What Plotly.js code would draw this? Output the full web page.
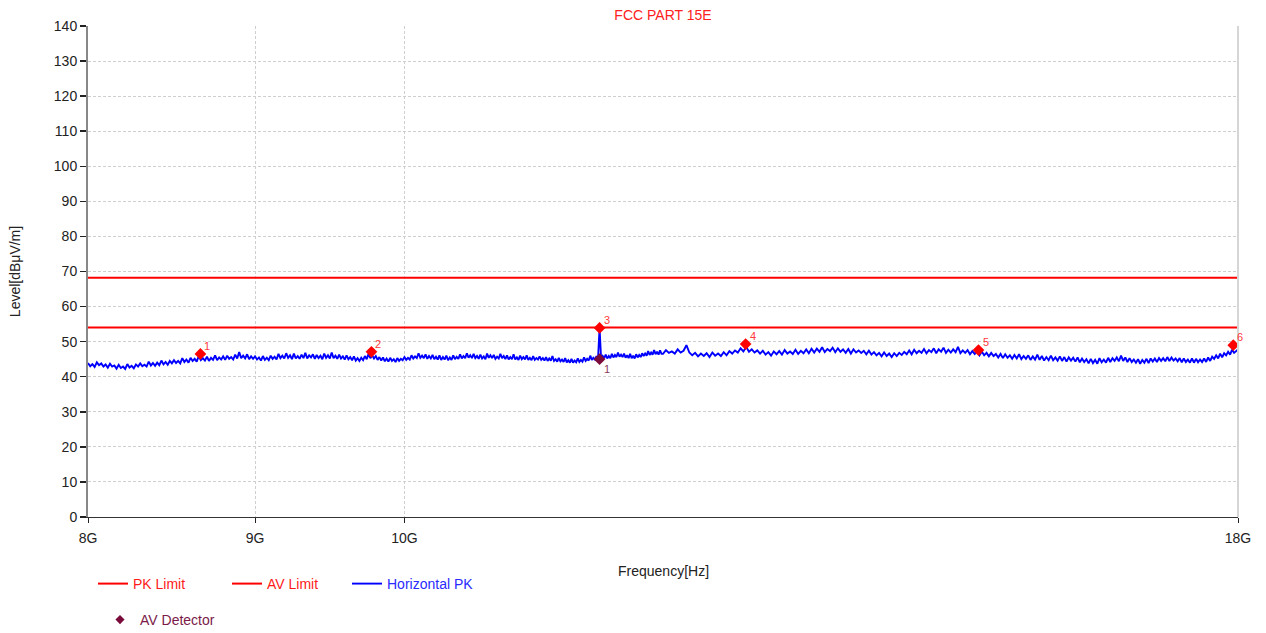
<!DOCTYPE html>
<html>
<head>
<meta charset="utf-8">
<script src="https://cdn.plot.ly/plotly-3.0.1.min.js"></script>
<style>html,body{margin:0;padding:0;background:#fff;}#chart{width:1266px;height:633px;}</style>
</head>
<body>
<div id="chart"></div>
<script>
// Frequency sweep points (GHz)
const freqGHz = [
8,8.0125,8.025,8.0375,8.05,8.0625,8.075,8.0875,8.1,8.1125,8.125,8.1375,8.15,8.1625,8.175,8.1875,8.2,8.2125,8.225,8.2375,
8.25,8.2625,8.275,8.2875,8.3,8.3125,8.325,8.3375,8.35,8.3625,8.375,8.3875,8.4,8.4125,8.425,8.4375,8.45,8.4625,8.475,8.4875,
8.5,8.5125,8.525,8.5375,8.55,8.5625,8.575,8.5875,8.6,8.6125,8.625,8.6375,8.65,8.6625,8.675,8.6875,8.7,8.7125,8.725,8.7375,
8.75,8.7625,8.775,8.7875,8.8,8.8125,8.825,8.8375,8.85,8.8625,8.875,8.8875,8.9,8.9125,8.925,8.9375,8.95,8.9625,8.975,8.9875,
9,9.0125,9.025,9.0375,9.05,9.0625,9.075,9.0875,9.1,9.1125,9.125,9.1375,9.15,9.1625,9.175,9.1875,9.2,9.2125,9.225,9.2375,
9.25,9.2625,9.275,9.2875,9.3,9.3125,9.325,9.3375,9.35,9.3625,9.375,9.3875,9.4,9.4125,9.425,9.4375,9.45,9.4625,9.475,9.4875,
9.5,9.5125,9.525,9.5375,9.55,9.5625,9.575,9.5875,9.6,9.6125,9.625,9.6375,9.65,9.6625,9.675,9.6875,9.7,9.7125,9.725,9.7375,
9.75,9.7625,9.775,9.7875,9.8,9.8125,9.825,9.8375,9.85,9.8625,9.875,9.8875,9.9,9.9125,9.925,9.9375,9.95,9.9625,9.975,9.9875,
10,10.0125,10.025,10.0375,10.05,10.0625,10.075,10.0875,10.1,10.1125,10.125,10.1375,10.15,10.1625,10.175,10.1875,10.2,10.2125,10.225,10.2375,
10.25,10.2625,10.275,10.2875,10.3,10.3125,10.325,10.3375,10.35,10.3625,10.375,10.3875,10.4,10.4125,10.425,10.4375,10.45,10.4625,10.475,10.4875,
10.5,10.5125,10.525,10.5375,10.55,10.5625,10.575,10.5875,10.6,10.6125,10.625,10.6375,10.65,10.6625,10.675,10.6875,10.7,10.7125,10.725,10.7375,
10.75,10.7625,10.775,10.7875,10.8,10.8125,10.825,10.8375,10.85,10.8625,10.875,10.8875,10.9,10.9125,10.925,10.9375,10.95,10.9625,10.975,10.9875,
11,11.0125,11.025,11.0375,11.05,11.0625,11.075,11.0875,11.1,11.1125,11.125,11.1375,11.15,11.1625,11.175,11.1875,11.2,11.2125,11.225,11.2375,
11.25,11.2625,11.275,11.2875,11.3,11.3125,11.325,11.3375,11.35,11.3625,11.375,11.3875,11.4,11.4125,11.425,11.4375,11.45,11.4625,11.475,11.4875,
11.5,11.5125,11.525,11.5375,11.55,11.5625,11.575,11.5875,11.6,11.6125,11.625,11.6375,11.65,11.6625,11.675,11.6875,11.7,11.7125,11.725,11.7375,
11.75,11.7625,11.775,11.7875,11.8,11.8125,11.825,11.8375,11.85,11.8625,11.875,11.8875,11.9,11.9125,11.925,11.9375,11.95,11.9625,11.975,11.9875,
12,12.025,12.05,12.075,12.1,12.125,12.15,12.175,12.2,12.225,12.25,12.275,12.3,12.325,12.35,12.375,12.4,12.425,12.45,12.475,
12.5,12.525,12.55,12.575,12.6,12.625,12.65,12.675,12.7,12.725,12.75,12.775,12.8,12.825,12.85,12.875,12.9,12.925,12.95,12.975,
13,13.025,13.05,13.075,13.1,13.125,13.15,13.175,13.2,13.225,13.25,13.275,13.3,13.325,13.35,13.375,13.4,13.425,13.45,13.475,
13.5,13.525,13.55,13.575,13.6,13.625,13.65,13.675,13.7,13.725,13.75,13.775,13.8,13.825,13.85,13.875,13.9,13.925,13.95,13.975,
14,14.025,14.05,14.075,14.1,14.125,14.15,14.175,14.2,14.225,14.25,14.275,14.3,14.325,14.35,14.375,14.4,14.425,14.45,14.475,
14.5,14.525,14.55,14.575,14.6,14.625,14.65,14.675,14.7,14.725,14.75,14.775,14.8,14.825,14.85,14.875,14.9,14.925,14.95,14.975,
15,15.025,15.05,15.075,15.1,15.125,15.15,15.175,15.2,15.225,15.25,15.275,15.3,15.325,15.35,15.375,15.4,15.425,15.45,15.475,
15.5,15.525,15.55,15.575,15.6,15.625,15.65,15.675,15.7,15.725,15.75,15.775,15.8,15.825,15.85,15.875,15.9,15.925,15.95,15.975,
16,16.025,16.05,16.075,16.1,16.125,16.15,16.175,16.2,16.225,16.25,16.275,16.3,16.325,16.35,16.375,16.4,16.425,16.45,16.475,
16.5,16.525,16.55,16.575,16.6,16.625,16.65,16.675,16.7,16.725,16.75,16.775,16.8,16.825,16.85,16.875,16.9,16.925,16.95,16.975,
17,17.025,17.05,17.075,17.1,17.125,17.15,17.175,17.2,17.225,17.25,17.275,17.3,17.325,17.35,17.375,17.4,17.425,17.45,17.475,
17.5,17.525,17.55,17.575,17.6,17.625,17.65,17.675,17.7,17.725,17.75,17.775,17.8,17.825,17.85,17.875,17.9,17.925,17.95,17.975,
18
];

// Horizontal PK trace level (dBuV/m)
const horizontalPK = [
43.9,43.0,43.6,42.8,44.1,43.3,43.8,42.9,43.5,42.6,43.7,42.9,43.2,42.3,43.4,42.5,42.9,42.2,43.6,42.6,
43.1,42.4,43.5,42.9,43.8,43.0,43.4,42.9,44.3,43.2,43.9,43.1,44.0,43.3,44.6,43.5,44.2,43.4,44.5,43.8,
44.7,43.9,44.5,43.8,45.3,44.2,44.9,44.0,45.4,44.5,45.1,44.3,45.9,44.7,45.3,44.6,45.7,44.5,45.4,44.8,
46.1,44.7,45.5,44.9,45.8,44.8,46.0,45.1,45.6,44.9,46.3,45.2,47.0,45.3,46.0,45.2,46.4,45.0,45.8,45.1,
45.8,44.9,45.5,44.6,45.9,44.8,45.4,44.7,46.0,45.1,45.7,44.9,46.5,45.3,46.0,45.2,46.7,45.4,46.1,45.0,
46.6,45.2,45.9,45.1,46.3,45.3,46.8,45.2,46.1,45.5,46.4,45.1,46.2,45.3,46.0,45.0,46.6,45.4,46.1,45.2,
46.9,45.3,46.0,45.1,46.3,45.2,45.8,44.9,46.1,45.0,45.6,44.7,45.8,44.6,45.3,44.5,45.4,44.7,45.9,45.0,
46.5,45.3,46.1,45.2,45.9,44.8,45.6,44.6,45.5,44.4,45.2,44.3,45.4,44.5,45.0,44.2,45.3,44.5,45.1,44.7,
45.6,44.8,45.4,44.9,46.1,45.2,45.8,45.3,46.7,45.4,46.0,45.3,46.4,45.1,45.9,45.2,46.2,45.0,45.7,44.9,
46.1,44.8,45.6,44.9,46.0,44.7,45.5,44.8,46.1,45.0,45.7,45.1,46.4,45.2,45.9,45.3,46.7,45.4,46.1,45.3,
46.5,45.3,45.9,45.1,46.3,45.2,45.8,45.0,46.6,45.4,46.1,45.3,46.2,45.1,45.7,45.2,46.5,45.3,45.9,45.0,
46.1,44.9,45.6,45.0,46.4,44.9,45.5,44.8,46.0,45.0,45.6,44.9,46.1,44.8,45.4,44.7,45.9,44.8,45.3,44.9,
45.8,44.8,45.3,44.6,45.6,44.5,45.2,44.6,45.9,44.5,45.0,44.3,45.4,44.4,44.9,44.2,45.3,44.1,44.7,44.0,
45.1,44.0,44.6,44.1,45.2,44.2,44.8,44.3,45.5,44.5,45.1,44.6,46.0,44.8,45.4,44.9,45.9,45.0,53.9,45.2,
45.9,45.3,46.3,45.2,45.9,45.3,46.5,45.5,46.2,45.6,46.9,45.7,46.3,45.6,46.6,45.4,46.1,45.3,46.5,45.3,
46.0,45.2,46.4,45.5,46.2,45.6,46.7,45.9,46.6,46.0,47.3,46.2,46.9,46.3,47.6,46.4,47.1,46.3,47.5,46.5,
46.5,47.6,46.8,47.2,46.6,47.8,46.9,47.4,49.0,46.9,46.1,46.8,45.8,46.6,45.9,46.7,45.6,46.9,46.0,46.6,
45.9,47.0,46.1,47.3,46.6,47.5,46.9,48.1,47.2,48.5,47.1,47.8,46.9,47.5,46.6,47.4,46.3,47.0,46.0,47.2,
46.4,47.3,46.3,47.6,46.6,47.2,46.5,47.7,46.5,47.4,46.7,47.8,46.7,48.0,46.9,48.0,47.1,48.4,47.0,47.9,
47.3,48.3,47.0,48.1,47.1,47.8,46.8,47.9,46.6,47.8,46.9,47.5,46.8,47.4,46.4,47.4,46.3,47.0,46.1,46.8,
45.8,46.9,45.9,46.6,45.6,46.7,45.9,46.8,46.2,47.1,46.4,47.5,46.4,47.7,46.7,47.4,46.8,47.9,46.7,47.6,
47.0,48.1,46.7,47.8,47.1,48.3,46.8,47.7,46.9,47.8,47.0,48.5,46.7,47.5,46.8,47.6,46.4,47.3,46.5,47.3,
46.1,47.2,46.1,46.8,45.8,46.8,45.9,46.5,45.5,46.5,45.3,46.4,45.4,46.1,45.1,46.2,45.2,46.4,45.0,45.9,
45.1,46.1,44.8,45.8,44.9,46.3,44.8,45.9,44.6,45.6,44.7,46.0,44.7,45.5,44.6,45.8,44.5,45.6,44.3,45.5,
44.6,45.4,44.3,45.5,44.1,45.2,44.2,45.0,43.8,45.1,43.9,44.8,43.7,45.3,44.1,44.9,44.0,45.4,44.2,45.3,
44.5,45.5,44.4,46.0,44.5,45.5,44.2,45.3,44.2,44.9,44.0,45.0,43.7,44.8,44.0,45.1,43.9,45.2,44.3,45.2,
44.2,45.3,44.5,45.3,44.4,45.6,44.5,45.5,44.6,45.2,44.4,45.3,44.1,45.2,44.2,44.9,44.0,45.2,44.0,45.1,
44.1,44.9,44.2,45.2,44.2,45.5,44.5,45.7,45.1,46.1,45.2,46.6,45.5,46.7,46.1,47.1,46.3,47.7,46.8,47.4,
47.8
];

// Limits
const limitFreq = [8, 18];
const pkLimit = [68.2, 68.2];
const avLimit = [54, 54];

// Peak markers
const pkMarkFreq = [8.66, 9.77, 11.475, 12.72, 14.99, 17.94];
const pkMarkLevel = [46.5, 47.1, 53.9, 49.3, 47.6, 49.0];
const pkMarkLabel = ['1', '2', '3', '4', '5', '6'];

// AV detector markers
const avMarkFreq = [11.475];
const avMarkLevel = [45.0];
const avMarkLabel = ['1'];

// Axis ticks
const xTickVals = [8, 9, 10, 18];
const xTickText = ['8G', '9G', '10G', '18G'];

const FONT = 'Liberation Sans, Arial, sans-serif';

const traces = [
  {x: limitFreq, y: pkLimit, type: 'scatter', mode: 'lines', name: '<span style="color:#ff1a1a">PK Limit</span>',
   line: {color: '#ff0000', width: 2}, legend: 'legend', hoverinfo: 'skip'},
  {x: limitFreq, y: avLimit, type: 'scatter', mode: 'lines', name: '<span style="color:#ff1a1a">AV Limit</span>',
   line: {color: '#ff0000', width: 2}, legend: 'legend2', hoverinfo: 'skip'},
  {x: freqGHz, y: horizontalPK, type: 'scatter', mode: 'lines', name: '<span style="color:#2a2aff">Horizontal PK</span>',
   line: {color: '#0000ff', width: 1.9}, legend: 'legend3'},
  {x: pkMarkFreq, y: pkMarkLevel, type: 'scatter', mode: 'markers',
   marker: {symbol: 'diamond', color: '#ff0000', size: 9}, showlegend: false, cliponaxis: false},
  {x: avMarkFreq, y: avMarkLevel, type: 'scatter', mode: 'markers',
   marker: {symbol: 'diamond', color: '#7a0a3a', size: 9}, showlegend: false, cliponaxis: false},
  // legend entry for the AV detector (smaller symbol, as in the reference legend)
  {x: [null], y: [null], type: 'scatter', mode: 'markers',
   marker: {symbol: 'diamond', color: '#7a0a3a', size: 7}, name: '<span style="color:#7a1a48">AV Detector</span>',
   legend: 'legend4'}
];

// marker number labels, placed at the marker data points
const annotations = [];
pkMarkFreq.forEach((f, i) => annotations.push({
  x: Math.log10(f), y: pkMarkLevel[i], xref: 'x', yref: 'y', text: pkMarkLabel[i], showarrow: false,
  xanchor: 'left', yanchor: 'middle', xshift: 2, yshift: 8,
  font: {family: FONT, size: 11, color: '#ff3a3a'}
}));
avMarkFreq.forEach((f, i) => annotations.push({
  x: Math.log10(f), y: avMarkLevel[i], xref: 'x', yref: 'y', text: avMarkLabel[i], showarrow: false,
  xanchor: 'left', yanchor: 'middle', xshift: 2, yshift: -10,
  font: {family: FONT, size: 11, color: '#8a3a5e'}
}));
// x-axis title
annotations.push({
  x: 0.5, y: (517 - 571) / 491, xref: 'paper', yref: 'paper', text: 'Frequency[Hz]', showarrow: false,
  xanchor: 'center', yanchor: 'middle', font: {family: FONT, size: 14, color: '#222'}
});

function leg(xpx, ypx) {
  return {x: xpx / 1266, y: 1 - ypx / 633, xref: 'container', yref: 'container',
          xanchor: 'left', yanchor: 'middle',
          orientation: 'h', bgcolor: 'rgba(0,0,0,0)', borderwidth: 0,
          font: {family: FONT, size: 14}};
}

const layout = {
  width: 1266, height: 633,
  margin: {l: 88, r: 28, t: 26, b: 116},
  paper_bgcolor: '#ffffff', plot_bgcolor: '#ffffff',
  font: {family: FONT, size: 14, color: '#222'},
  title: {text: 'FCC PART 15E', font: {family: FONT, size: 14, color: '#ff2020'},
          x: 0.5, xref: 'paper', xanchor: 'center', y: 1 - 15 / 633, yref: 'container', yanchor: 'middle'},
  xaxis: {
    type: 'log', range: [Math.log10(8), Math.log10(18)],
    tickmode: 'array', tickvals: xTickVals, ticktext: xTickText,
    ticks: 'outside', ticklen: 5, tickwidth: 1, tickcolor: '#222',
    ticklabelstandoff: 3,
    showline: true, linecolor: '#333', linewidth: 1,
    showgrid: true, gridcolor: '#cfcfcf', griddash: '3px,2px', gridwidth: 1,
    zeroline: false, tickfont: {family: FONT, size: 14, color: '#222'},
    automargin: false
  },
  yaxis: {
    range: [0, 140], dtick: 10, tick0: 0,
    ticks: 'outside', ticklen: 6, tickwidth: 1.5, tickcolor: '#222',
    showline: true, linecolor: '#888', linewidth: 2,
    showgrid: true, gridcolor: '#cfcfcf', griddash: '3px,2px', gridwidth: 1,
    zeroline: false, tickfont: {family: FONT, size: 14, color: '#222'},
    title: {text: 'Level[dBμV/m]', font: {family: FONT, size: 14, color: '#222'}, standoff: 30},
    automargin: false
  },
  annotations: annotations,
  shapes: [
    {type: 'line', xref: 'paper', yref: 'paper', x0: 1, x1: 1, y0: 0, y1: 1,
     line: {color: '#d6d6d6', width: 2}}
  ],
  legend: leg(93, 584),
  legend2: leg(227, 584),
  legend3: leg(347, 584),
  legend4: leg(100, 620),
  showlegend: true
};

Plotly.newPlot('chart', traces, layout, {displayModeBar: false, staticPlot: true});
</script>
</body>
</html>
